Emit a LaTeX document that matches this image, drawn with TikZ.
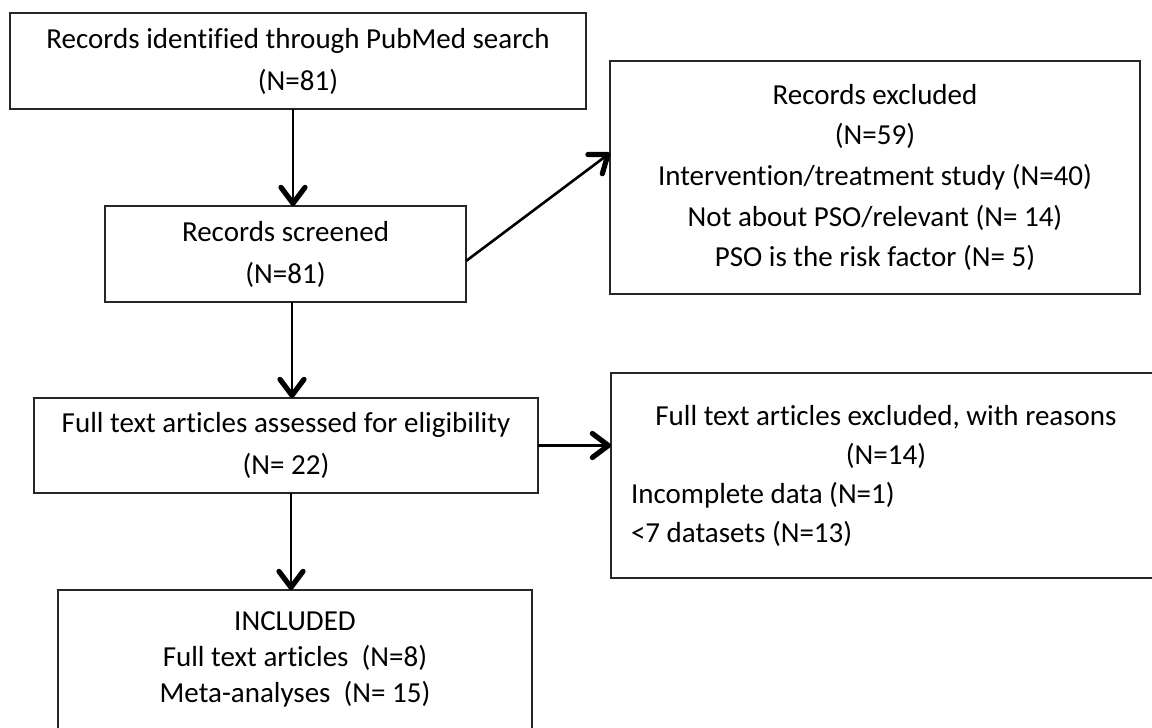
\documentclass[tikz,border=0pt]{standalone}
\usepackage{fontspec}
\setmainfont{Carlito}[Ligatures=NoCommon]
\usetikzlibrary{arrows.meta,positioning,calc}
\tikzset{
  flowbox/.style={draw=black!85, line width=1pt, align=center, inner sep=0pt, outer sep=0pt, font=\fontsize{14.5}{21}\selectfont},
  flowtext/.style={align=center, inner sep=0pt, font=\fontsize{14.5}{18}\selectfont},
  flowarr/.style={line width=1.3pt, -{Straight Barb[length=8pt,width=12pt,line width=2.6pt,round]}}
}

\begin{document}
\begin{tikzpicture}[x=0.5pt, y=-0.5pt]
        \useasboundingbox (0,0) rectangle (1152,728);
        \clip (0,0) rectangle (1152,728);
        \node[flowbox, minimum width=288pt, minimum height=48pt] (ident) at (298,61) {Records identified through PubMed search\\(N=81)};
        \node[flowbox, minimum width=180.5pt, minimum height=48pt] (screen) at (285.5,254) {Records screened\\(N=81)};
        \node[flowbox, minimum width=265pt, minimum height=116.5pt, font=\fontsize{14.5}{20.3}\selectfont] (excl) at (875,177.5)
          {Records excluded\\(N=59)\\Intervention/treatment study (N=40)\\Not about PSO/relevant (N= 14)\\PSO is the risk factor (N= 5)};
        \node[flowbox, minimum width=252pt, minimum height=47.5pt] (full) at (286,445.5) {Full text articles assessed for eligibility\\(N= 22)};
        \node[flowbox, minimum width=275pt, minimum height=102.5pt, align=flush left, text width=255pt, font=\fontsize{14.5}{19.5}\selectfont] (fexcl) at (886,475.5)
          {\makebox[255pt]{Full text articles excluded, with reasons}\\\makebox[255pt]{(N=14)}\\Incomplete data (N=1)\\<7 datasets (N=13)};
        \node[flowbox, minimum width=237pt, minimum height=85pt, anchor=north] (incl) at (295,590) {};
        \node[flowtext, below=10.5pt of incl.north] (incltext) {INCLUDED\\Full text articles\ \ (N=8)\\Meta-analyses\ \ (N= 15)};
        \draw[flowarr] ([xshift=-2.5pt]ident.south) -- ([xshift=-2.5pt]ident.south |- screen.north);
        \draw[flowarr] ([yshift=-3.5pt]screen.east) -- ([yshift=12.25pt]excl.west);
        \draw[flowarr] ([xshift=3.25pt]screen.south) -- ([xshift=3.25pt]screen.south |- full.north);
        \draw[flowarr] (full.east) -- (full.east -| fexcl.west);
        \draw[flowarr] ([xshift=2.5pt]full.south) -- ([xshift=2.5pt]full.south |- incl.north);
      \end{tikzpicture}
\end{document}
